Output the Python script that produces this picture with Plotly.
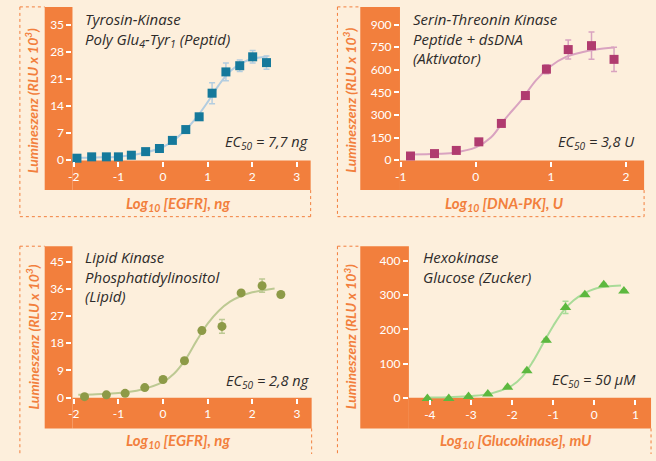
import plotly.graph_objects as go

W, H = 656, 461
BG = "#FDEFDC"
ORANGE = "#F27F3D"
DARK = "#2E2B2A"
FONT = "Lato"
TFONT = "Open Sans"

# ---------------- data ----------------
# Panel 1: Tyrosin-Kinase
p1_x = [-1.93, -1.60, -1.27, -1.00, -0.71, -0.39, -0.08, 0.21, 0.51, 0.81, 1.10, 1.41, 1.72, 2.01, 2.32]
p1_y = [0.5, 0.85, 0.85, 0.85, 1.27, 2.2, 3.0, 5.1, 7.9, 11.2, 17.3, 22.8, 24.4, 26.7, 25.2]
p1_err = [0.2, 0.2, 0.2, 0.2, 0.2, 0.3, 0.3, 0.4, 0.5, 0.6, 2.7, 2.3, 1.5, 1.6, 1.7]
p1_fit_x = [-2.0, -1.5, -1.0, -0.5, 0.0, 0.25, 0.5, 0.75, 1.0, 1.25, 1.5, 1.75, 2.0, 2.35]
p1_fit_y = [0.6, 0.7, 0.9, 1.7, 3.4, 5.2, 7.8, 11.0, 15.0, 19.4, 22.9, 25.0, 26.2, 26.8]
p1_xticks = [-2, -1, 0, 1, 2, 3]
p1_xlabels = ["-2", "-1", "0", "1", "2", "3"]
p1_yticks = [0, 7, 14, 21, 28, 35]

# Panel 2: Serin-Threonin Kinase
p2_x = [-0.87, -0.55, -0.26, 0.04, 0.34, 0.66, 0.94, 1.23, 1.54, 1.84]
p2_y = [28, 44, 65, 122, 244, 429, 604, 734, 760, 669]
p2_err = [5, 5, 6, 8, 10, 22, 30, 63, 90, 80]
p2_fit_x = [-0.9, -0.6, -0.3, 0.0, 0.2, 0.4, 0.6, 0.8, 1.0, 1.2, 1.4, 1.6, 1.84]
p2_fit_y = [38, 41, 50, 85, 150, 280, 395, 530, 625, 685, 715, 735, 748]
p2_xticks = [-1, 0, 1, 2]
p2_xlabels = ["-1", "0", "1", "2"]
p2_yticks = [0, 150, 300, 450, 600, 750, 900]

# Panel 3: Lipid Kinase
p3_x = [-1.76, -1.27, -0.85, -0.41, 0.0, 0.48, 0.87, 1.32, 1.75, 2.22, 2.64]
p3_y = [0.3, 0.9, 1.4, 3.3, 6.0, 12.2, 22.2, 23.6, 34.7, 37.1, 34.2]
p3_err = [0.2, 0.2, 0.2, 0.3, 0.3, 0.4, 0.5, 2.3, 0.6, 2.2, 0.5]
p3_fit_x = [-1.9, -1.5, -1.0, -0.5, 0.0, 0.25, 0.5, 0.75, 1.0, 1.25, 1.5, 1.75, 2.0, 2.5]
p3_fit_y = [0.9, 1.1, 1.5, 2.6, 5.2, 8.0, 12.6, 18.8, 24.5, 28.8, 31.8, 33.7, 34.9, 36.2]
p3_xticks = [-2, -1, 0, 1, 2, 3]
p3_xlabels = ["-2", "-1", "0", "1", "2", "3"]
p3_yticks = [0, 9, 18, 27, 36, 45]

# Panel 4: Hexokinase
p4_x = [-4.06, -3.54, -3.06, -2.59, -2.11, -1.64, -1.17, -0.70, -0.23, 0.23, 0.72]
p4_y = [-2, -2, 4, 11.5, 31, 79, 168, 264, 301, 330, 312]
p4_err = [1, 1, 1, 2, 3, 4, 5, 18, 4, 4, 4]
p4_fit_x = [-4.0, -3.5, -3.0, -2.5, -2.0, -1.75, -1.5, -1.25, -1.0, -0.75, -0.5, -0.25, 0.0, 0.3, 0.65]
p4_fit_y = [1, 2, 5, 13, 36, 62, 105, 158, 210, 255, 285, 305, 318, 325, 328]
p4_xticks = [-4, -3, -2, -1, 0, 1]
p4_xlabels = ["-4", "-3", "-2", "-1", "0", "1"]
p4_yticks = [0, 100, 200, 300, 400]

# ---------------- helpers ----------------
def px(x):
    return x / W

def py(y):
    return 1 - y / H

fig = go.Figure()

panels = [
    dict(x=p1_x, y=p1_y, err=p1_err, fx=p1_fit_x, fy=p1_fit_y, sym="square", msize=9,
         mc="#15799B", lc="#B3CDE0", xt=p1_xticks, xl=p1_xlabels, yt=p1_yticks,
         dom=(68, 308, 7, 163), xr=[-2.03, 3.31], yr=[-0.1, 39.6]),
    dict(x=p2_x, y=p2_y, err=p2_err, fx=p2_fit_x, fy=p2_fit_y, sym="square", msize=9,
         mc="#B03B6F", lc="#D9A3C0", xt=p2_xticks, xl=p2_xlabels, yt=p2_yticks,
         dom=(398, 644, 7, 163), xr=[-1.01, 2.24], yr=[-2, 1017]),
    dict(x=p3_x, y=p3_y, err=p3_err, fx=p3_fit_x, fy=p3_fit_y, sym="circle", msize=9,
         mc="#8D9A47", lc="#BDC993", xt=p3_xticks, xl=p3_xlabels, yt=p3_yticks,
         dom=(68, 309, 250, 404), xr=[-2.03, 3.33], yr=[-0.1, 50.2]),
    dict(x=p4_x, y=p4_y, err=p4_err, fx=p4_fit_x, fy=p4_fit_y, sym="triangle-up", msize=10,
         mc="#5DB83F", lc="#A9DB98", xt=p4_xticks, xl=p4_xlabels, yt=p4_yticks,
         dom=(407, 651, 250, 405), xr=[-4.51, 1.38], yr=[-3, 443]),
]

layout_axes = {}
for i, p in enumerate(panels, start=1):
    xa = "x" if i == 1 else f"x{i}"
    ya = "y" if i == 1 else f"y{i}"
    fig.add_trace(go.Scatter(x=p["fx"], y=p["fy"], mode="lines", xaxis=xa, yaxis=ya,
                             line=dict(color=p["lc"], width=2, shape="spline"),
                             hoverinfo="skip", cliponaxis=False))
    fig.add_trace(go.Scatter(x=p["x"], y=p["y"], mode="markers", xaxis=xa, yaxis=ya,
                             marker=dict(symbol=p["sym"], size=p["msize"], color=p["mc"]),
                             error_y=dict(type="data", array=p["err"], color=p["lc"],
                                          thickness=1.5, width=3),
                             cliponaxis=False))
    x0, x1, y0, y1 = p["dom"]
    axcommon = dict(showgrid=False, zeroline=False, showline=False, ticks="outside",
                    ticklen=5, tickwidth=1.5, tickcolor="white",
                    tickfont=dict(family=FONT, size=12, color="white"), fixedrange=True)
    layout_axes["xaxis" if i == 1 else f"xaxis{i}"] = dict(
        domain=[px(x0), px(x1)], range=p["xr"], anchor=ya,
        tickmode="array", tickvals=p["xt"], ticktext=p["xl"], **axcommon)
    layout_axes["yaxis" if i == 1 else f"yaxis{i}"] = dict(
        domain=[py(y1), py(y0)], range=p["yr"], anchor=xa,
        tickmode="array", tickvals=p["yt"], **axcommon)

# ---------------- orange bands and dashed frames ----------------
shapes = []
def rect(x0, y0, x1, y1):
    shapes.append(dict(type="rect", xref="paper", yref="paper", layer="below",
                       x0=px(x0), x1=px(x1), y0=py(y1), y1=py(y0),
                       fillcolor=ORANGE, line=dict(width=0)))

def dline(x0, y0, x1, y1):
    shapes.append(dict(type="line", xref="paper", yref="paper", layer="below",
                       x0=px(x0), x1=px(x1), y0=py(y0), y1=py(y1),
                       line=dict(color=ORANGE, width=1, dash="dot")))

# panel 1
rect(40, 7, 68, 193); rect(68, 163, 308, 193)
dline(15, 7, 15, 220); dline(15, 7, 40, 7); dline(15, 220, 308, 220); dline(308, 193, 308, 220)
# panel 2
rect(358, 7, 398, 193); rect(398, 163, 644, 193)
dline(335, 7, 335, 220); dline(335, 7, 358, 7); dline(335, 220, 644, 220); dline(644, 193, 644, 220)
# panel 3
rect(40, 250, 68, 435); rect(68, 404, 309, 435)
dline(15, 250, 15, 461); dline(15, 250, 40, 250); dline(309, 435, 309, 461)
# panel 4
rect(358, 250, 407, 435); rect(407, 404, 651, 435)
dline(335, 250, 335, 461); dline(335, 250, 358, 250); dline(651, 435, 651, 461)

# ---------------- texts ----------------
ann = []
def text(x, y, s, size, color, xanchor="center", yanchor="middle", angle=0, bold=False,
         family=FONT):
    if bold:
        s = "<b>" + s + "</b>"
    ann.append(dict(x=px(x), y=py(y), xref="paper", yref="paper", text="<i>" + s + "</i>",
                    showarrow=False, xanchor=xanchor, yanchor=yanchor, textangle=angle,
                    align="left", font=dict(family=family, size=size, color=color)))

ytitle = "Lumineszenz (RLU x 10<sup>3</sup>)"
text(27, 102, ytitle, 14, ORANGE, angle=-90, bold=True)
text(347, 102, ytitle, 14, ORANGE, angle=-90, bold=True)
text(28, 342, ytitle, 14, ORANGE, angle=-90, bold=True)
text(348, 342, ytitle, 14, ORANGE, angle=-90, bold=True)

text(174, 207, "Log<sub>10</sub> [EGFR], ng", 15, ORANGE, bold=True)
text(503, 207, "Log<sub>10</sub> [DNA-PK], U", 15, ORANGE, bold=True)
text(174, 448, "Log<sub>10</sub> [EGFR], ng", 15, ORANGE, bold=True)
text(515, 448, "Log<sub>10</sub> [Glucokinase], mU", 15, ORANGE, bold=True)

panel_titles = [
    (79, 7, "Tyrosin-Kinase<br>Poly Glu<sub>4</sub>-Tyr<sub>1</sub> (Peptid)"),
    (409, 7, "Serin-Threonin Kinase<br>Peptide + dsDNA<br>(Aktivator)"),
    (79, 249, "Lipid Kinase<br>Phosphatidylinositol<br>(Lipid)"),
    (419, 249, "Hexokinase<br>Glucose (Zucker)"),
]
for tx, ty, s in panel_titles:
    text(tx, ty, s, 15, DARK, xanchor="left", yanchor="top", family=TFONT)

text(307, 145, "EC<sub>50</sub> = 7,7 ng", 14.5, DARK, xanchor="right", family=TFONT)
text(636, 145, "EC<sub>50</sub> = 3,8 U", 14.5, DARK, xanchor="right", family=TFONT)
text(308, 387, "EC<sub>50</sub> = 2,8 ng", 14.5, DARK, xanchor="right", family=TFONT)
text(638, 386, "EC<sub>50</sub> = 50 µM", 14.5, DARK, xanchor="right", family=TFONT)

fig.update_layout(
    width=W, height=H, margin=dict(l=0, r=0, t=0, b=0),
    paper_bgcolor=BG, plot_bgcolor="rgba(0,0,0,0)",
    showlegend=False, shapes=shapes, annotations=ann,
    font=dict(family=FONT), **layout_axes,
)

fig.write_html("out.html", config={"displayModeBar": False},
               post_script="document.body.style.margin='0';document.body.style.background='%s';" % BG)
